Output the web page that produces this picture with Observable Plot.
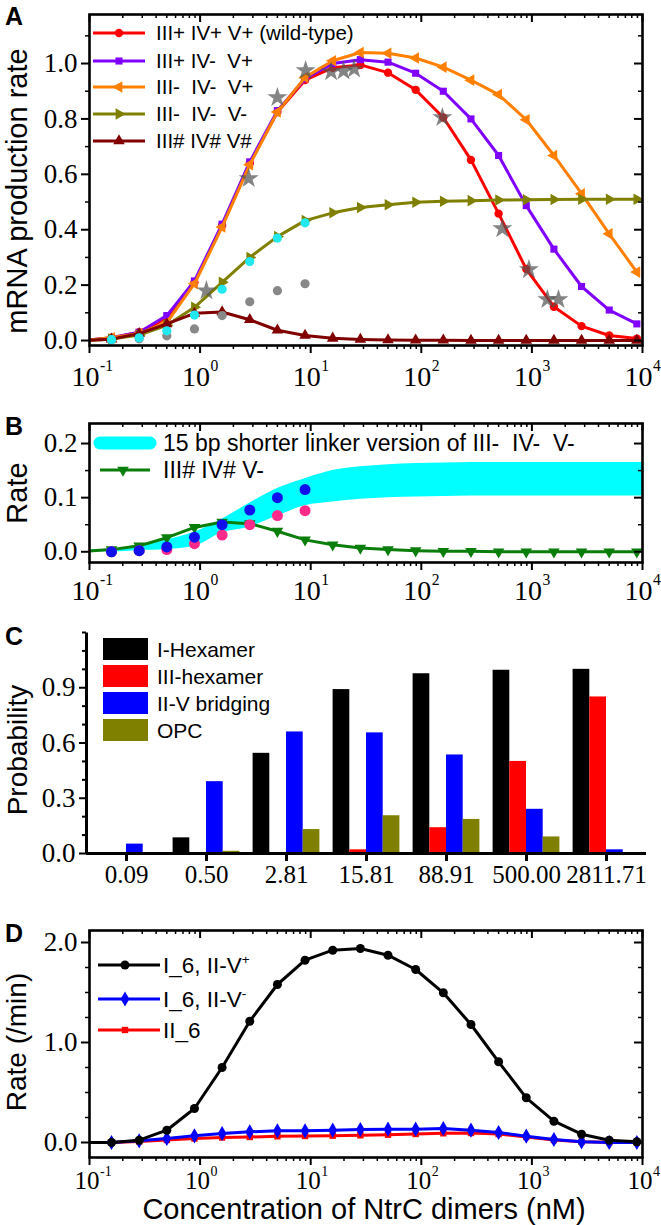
<!DOCTYPE html>
<html><head><meta charset="utf-8">
<script src="https://cdn.jsdelivr.net/npm/d3@7"></script>
<script src="https://cdn.jsdelivr.net/npm/@observablehq/plot@0.6"></script>
<style>
body{margin:0;background:#fff;}
#wrap{position:relative;width:661px;height:1225px;overflow:hidden;background:#fff;}
#wrap svg{position:absolute;left:0;}
#wrap svg text{white-space:pre;}
</style></head><body><div id="wrap"></div>
<script>
// ---------- shared x values (NtrC dimer concentration, nM) ----------
const conc = [0.0889, 0.1581, 0.2812, 0.5, 0.8891, 1.581, 2.812, 5.0, 8.891, 15.81, 28.12, 50.0, 88.91, 158.1, 281.2, 500.0, 889.1, 1581, 2812, 5000, 8891];
const xMajor = [0.1, 1, 10, 100, 1000, 10000];
const xExp = ["-1", "0", "1", "2", "3", "4"];

// ---------- Panel A ----------
const wildType  = [0.0, 0.01, 0.03, 0.08, 0.21, 0.415, 0.64, 0.825, 0.94, 0.985, 0.995, 0.967, 0.905, 0.805, 0.652, 0.458, 0.258, 0.122, 0.052, 0.018, 0.007];
const IIIpIVmVp = [0.0, 0.01, 0.03, 0.09, 0.215, 0.42, 0.645, 0.83, 0.945, 1.0, 1.014, 1.005, 0.965, 0.90, 0.80, 0.668, 0.487, 0.33, 0.195, 0.11, 0.06];
const IIImIVmVp = [0.0, 0.01, 0.025, 0.065, 0.205, 0.41, 0.635, 0.825, 0.95, 1.01, 1.04, 1.037, 1.02, 0.987, 0.94, 0.888, 0.797, 0.668, 0.53, 0.385, 0.247];
const IIImIVmVm = [0.0, 0.005, 0.02, 0.055, 0.12, 0.21, 0.30, 0.375, 0.433, 0.461, 0.48, 0.49, 0.499, 0.503, 0.505, 0.507, 0.508, 0.509, 0.51, 0.51, 0.51];
const IIIhIVhVh = [0.0, 0.005, 0.025, 0.06, 0.098, 0.103, 0.075, 0.037, 0.018, 0.008, 0.004, 0.002, 0.001, 0.001, 0, 0, 0, 0, 0, 0, 0];
const starX = [1.14, 2.75, 5.0, 9.0, 15.3, 19.8, 24.7, 155, 540, 940, 1380, 1740];
const starY = [0.18, 0.585, 0.877, 0.975, 0.97, 0.973, 0.98, 0.805, 0.404, 0.256, 0.148, 0.148];
const dataX = [0.1581, 0.2812, 0.5, 0.8891, 1.581, 2.812, 5.0, 8.891];
const greyY = [0.003, 0.006, 0.017, 0.042, 0.09, 0.14, 0.18, 0.205];
const cyanY = [0.003, 0.01, 0.035, 0.092, 0.185, 0.285, 0.37, 0.425];
const legendA = ["III+ IV+ V+ (wild-type)", "III+ IV-  V+", "III-  IV-  V+", "III-  IV-  V-", "III# IV# V#"];

// ---------- Panel B ----------
const bandX  = [0.0889, 0.1581, 0.2812, 0.5, 0.8891, 1.581, 2.812, 5.0, 8.891, 15.81, 28.12, 50.0, 88.91, 158.1, 281.2, 500.0, 889.1, 1581, 2812, 5000, 8891, 10000];
const bandLo = [0.0, 0.0, 0.002, 0.004, 0.01, 0.035, 0.046, 0.066, 0.085, 0.092, 0.097, 0.1, 0.101, 0.102, 0.103, 0.103, 0.103, 0.103, 0.103, 0.103, 0.103, 0.103];
const bandHi = [0.003, 0.005, 0.01, 0.022, 0.036, 0.06, 0.09, 0.117, 0.135, 0.15, 0.157, 0.161, 0.163, 0.164, 0.165, 0.165, 0.165, 0.165, 0.165, 0.165, 0.165, 0.165];
const IIIhIVhVm = [0.001, 0.004, 0.011, 0.026, 0.045, 0.055, 0.052, 0.038, 0.022, 0.013, 0.007, 0.004, 0.002, 0.001, 0.001, 0, 0, 0, 0, 0, 0];
const blueB = [0.0, 0.002, 0.009, 0.027, 0.05, 0.077, 0.10, 0.115];
const pinkB = [0.0, 0.002, 0.004, 0.015, 0.031, 0.05, 0.067, 0.076];
const legendB = ["15 bp shorter linker version of III-  IV-  V-", "III# IV# V-"];

// ---------- Panel C ----------
const catsC = ["0.09", "0.50", "2.81", "15.81", "88.91", "500.00", "2811.71"];
const iHexamer   = [0, 0.085, 0.544, 0.89, 0.976, 0.995, 1.0];
const iiiHexamer = [0, 0, 0, 0.02, 0.14, 0.50, 0.85];
const bridging   = [0.051, 0.39, 0.66, 0.655, 0.535, 0.24, 0.02];
const opc        = [0, 0.012, 0.13, 0.205, 0.185, 0.09, 0];
const legendC = ["I-Hexamer", "III-hexamer", "II-V bridging", "OPC"];

// ---------- Panel D ----------
const i6Plus  = [0, 0, 0.023, 0.123, 0.34, 0.75, 1.213, 1.58, 1.823, 1.923, 1.94, 1.873, 1.73, 1.497, 1.18, 0.807, 0.447, 0.213, 0.083, 0.023, 0.007];
const i6Minus = [0, 0, 0.017, 0.04, 0.067, 0.09, 0.107, 0.117, 0.117, 0.123, 0.13, 0.133, 0.133, 0.14, 0.123, 0.10, 0.063, 0.03, 0.007, 0, 0];
const ii6     = [0, 0, 0.01, 0.025, 0.04, 0.05, 0.055, 0.062, 0.065, 0.068, 0.072, 0.078, 0.085, 0.092, 0.095, 0.085, 0.055, 0.025, 0.008, 0.002, 0];

// ---------- helpers ----------
const xMinor = [];
for (const d of [0.1, 1, 10, 100, 1000]) for (let k = 2; k <= 9; k++) xMinor.push(d * k);

const sqrt3 = Math.sqrt(3);
function rotTri(rot) {
  return {draw(ctx, size) {
    const y = -Math.sqrt(size / (sqrt3 * 3));
    const p = [[0, y * 2], [-sqrt3 * y, -y], [sqrt3 * y, -y]].map(([a, b]) => rot(a, b));
    ctx.moveTo(p[0][0], p[0][1]); ctx.lineTo(p[1][0], p[1][1]); ctx.lineTo(p[2][0], p[2][1]); ctx.closePath();
  }};
}
const triLeft = rotTri((x, y) => [y, -x]);
const triRight = rotTri((x, y) => [-y, x]);
const triDown = rotTri((x, y) => [x, -y]);

const W = 661;
const serif = '"Liberation Serif", "DejaVu Serif", "Times New Roman", serif';
const sans = '"Liberation Sans", Arial, sans-serif';

function logXMarks(frameH, labelDy, fs) {
  return [
    Plot.axisX({anchor: "bottom", ticks: xMajor, tickSize: 8, tickFormat: () => "", strokeWidth: 2, label: null}),
    Plot.axisX({anchor: "bottom", ticks: xMinor, tickSize: 4, tickFormat: () => "", strokeWidth: 1.5, label: null}),
    Plot.ruleX(xMajor, {insetBottom: frameH - 8, strokeWidth: 2}),
    Plot.ruleX(xMinor, {insetBottom: frameH - 4, strokeWidth: 1.5}),
    Plot.text(xMajor, {x: d => d, frameAnchor: "bottom", text: () => "10", dy: labelDy, dx: 10, textAnchor: "end", lineAnchor: "bottom", fontSize: fs, fontFamily: serif}),
    Plot.text(xMajor, {x: d => d, frameAnchor: "bottom", text: (d, i) => xExp[i], dy: labelDy - fs * 0.52, dx: 10.5, textAnchor: "start", lineAnchor: "bottom", fontSize: fs * 0.56, fontFamily: serif})
  ];
}
function yMarks(maj, min, frameW, fmt, fs) {
  return [
    Plot.axisY({anchor: "left", ticks: maj, tickSize: 8, tickPadding: 4, tickFormat: fmt, strokeWidth: 2, label: null, fontSize: fs, fontFamily: serif}),
    Plot.axisY({anchor: "left", ticks: min, tickSize: 4, tickFormat: () => "", strokeWidth: 1.5, label: null}),
    Plot.ruleY(maj, {insetLeft: frameW - 8, strokeWidth: 2}),
    Plot.ruleY(min, {insetLeft: frameW - 4, strokeWidth: 1.5})
  ];
}
function place(svg, top, fs) {
  svg.style.top = top + "px";
  svg.setAttribute("font-family", serif);
  document.getElementById("wrap").appendChild(svg);
  svg.querySelectorAll("g, text").forEach(t => {
    if (t.hasAttribute("font-family")) t.setAttribute("font-family", serif);
  });
  svg.querySelectorAll("text").forEach(t => {
    t.style.fontFamily = serif;
    if (parseFloat(getComputedStyle(t).fontSize) < 12) t.style.fontSize = fs + "px";
  });
}
const baseStyle = {fontFamily: serif, fontSize: "26px", color: "black", background: "transparent", overflow: "visible"};
const f1 = d3.format(".1f");

// ---------- Plot A ----------
const tA = conc.map((c, i) => ({c, wt: wildType[i], p: IIIpIVmVp[i], o: IIImIVmVp[i], ol: IIImIVmVm[i], dr: IIIhIVhVh[i]}));
const seriesA = [
  {key: "wt", color: "#ff0000", sym: "circle", r: 4.2},
  {key: "p", color: "#8000ff", sym: "square", r: 4},
  {key: "o", color: "#ff8000", sym: triLeft, r: 4.3},
  {key: "ol", color: "#808000", sym: triRight, r: 4.3},
  {key: "dr", color: "#800000", sym: "triangle", r: 4.3}
];
const tStars = starX.map((x, i) => ({x, y: starY[i]}));
const tGrey = dataX.map((x, i) => ({x, y: greyY[i]}));
const tCyan = dataX.map((x, i) => ({x, y: cyanY[i]}));
const mA = 89, mAR = 19, topA = 14, botA = 55, hA = 400;
const plotA = Plot.plot({
  width: W, height: hA, marginLeft: mA, marginRight: mAR, marginTop: topA, marginBottom: botA,
  style: baseStyle,
  x: {type: "log", domain: [0.1, 10000], axis: null},
  y: {domain: [-0.018, 1.177], axis: null},
  marks: [
    ...seriesA.flatMap(s => [
      Plot.line(tA, {x: "c", y: s.key, stroke: s.color, strokeWidth: 3, clip: true}),
      Plot.dot(tA, {x: "c", y: s.key, symbol: s.sym, r: s.r, fill: s.color, stroke: "none", clip: true})
    ]),
    Plot.dot(tGrey, {x: "x", y: "y", r: 4.6, fill: "#888888", stroke: "none"}),
    Plot.dot(tCyan, {x: "x", y: "y", r: 4.6, fill: "#22e8f0", stroke: "none"}),
    Plot.dot(tStars, {x: "x", y: "y", symbol: "star", r: 6.3, fill: "#555555", fillOpacity: 0.72, stroke: "none"}),
    Plot.frame({strokeWidth: 2.6}),
    ...logXMarks(hA - topA - botA, 40, 28),
    ...yMarks([0, 0.2, 0.4, 0.6, 0.8, 1.0], [0.1, 0.3, 0.5, 0.7, 0.9, 1.1], W - mA - mAR, f1, 27)
  ]
});
place(plotA, 0, 27);

// ---------- Plot B ----------
const tBand = bandX.map((c, i) => ({c, lo: bandLo[i], hi: bandHi[i]}));
const tB = conc.map((c, i) => ({c, g: IIIhIVhVm[i]}));
const tBlue = dataX.map((x, i) => ({x, y: blueB[i]}));
const tPink = dataX.map((x, i) => ({x, y: pinkB[i]}));
const topB = 23, botB = 53, hB = 215;
const plotB = Plot.plot({
  width: W, height: hB, marginLeft: mA, marginRight: mAR, marginTop: topB, marginBottom: botB,
  style: baseStyle,
  x: {type: "log", domain: [0.1, 10000], axis: null},
  y: {domain: [-0.0198, 0.237], axis: null},
  marks: [
    Plot.areaY(tBand, {x: "c", y1: "lo", y2: "hi", fill: "#00ffff", curve: "monotone-x", clip: true}),
    Plot.line(tB, {x: "c", y: "g", stroke: "#0a7d0a", strokeWidth: 3, clip: true}),
    Plot.dot(tB, {x: "c", y: "g", symbol: triDown, r: 4.3, fill: "#0a7d0a", stroke: "none", clip: true}),
    Plot.dot(tPink, {x: "x", y: "y", r: 5.5, fill: "#ff2a8a", stroke: "none"}),
    Plot.dot(tBlue, {x: "x", y: "y", r: 5.5, fill: "#1010ee", stroke: "none"}),
    Plot.frame({strokeWidth: 2.6}),
    ...logXMarks(hB - topB - botB, 37, 28),
    ...yMarks([0, 0.1, 0.2], [0.05, 0.15], W - mA - mAR, f1, 27)
  ]
});
place(plotB, 400, 27);

// ---------- Plot C ----------
const tC = catsC.map((cat, i) => ({cat, a: iHexamer[i], b: iiiHexamer[i], c: bridging[i], d: opc[i]}));
const mCL = 86, mCR = 15, topC = 32, botC = 47, hC = 300;
const stepC = (W - mCL - mCR) / catsC.length;
const barW = 16.7, ins = (stepC - barW) / 2;
const seriesC = [
  {key: "a", color: "#000000", dx: -1.5 * barW},
  {key: "b", color: "#ff0000", dx: -0.5 * barW},
  {key: "c", color: "#0000ff", dx: 0.5 * barW},
  {key: "d", color: "#808000", dx: 1.5 * barW}
];
const fwC = W - mCL - mCR, fhC = hC - topC - botC;
const plotC = Plot.plot({
  width: W, height: hC, marginLeft: mCL, marginRight: mCR, marginTop: topC, marginBottom: botC,
  style: baseStyle,
  x: {type: "band", domain: catsC, padding: 0, axis: null},
  y: {domain: [0, 1.2], axis: null},
  marks: [
    ...seriesC.map(s => Plot.barY(tC, {x: "cat", y: s.key, fill: s.color, dx: s.dx, insetLeft: ins, insetRight: ins})),
    Plot.ruleY([0], {strokeWidth: 3}),
    Plot.frame({strokeWidth: 3, strokeDasharray: `0 ${2 * fwC + fhC} ${fhC}`}),
    Plot.axisX({anchor: "bottom", tickSize: 8, tickPadding: 4, strokeWidth: 3, label: null, fontSize: 25, fontFamily: serif}),
    Plot.axisY({anchor: "left", ticks: [0, 0.3, 0.6, 0.9], tickSize: 7, tickPadding: 4, tickFormat: f1, strokeWidth: 2, label: null, fontSize: 27, fontFamily: serif}),
    Plot.axisY({anchor: "left", ticks: [0.1, 0.2, 0.4, 0.5, 0.7, 0.8, 1.0, 1.1, 1.2], tickSize: 4, tickFormat: () => "", strokeWidth: 2, label: null})
  ]
});
place(plotC, 600, 25);

// ---------- Plot D ----------
const tD = conc.map((c, i) => ({c, k: i6Plus[i], b: i6Minus[i], r: ii6[i]}));
const seriesD = [
  {key: "r", color: "#ff0000", sym: "square", r: 3.6},
  {key: "b", color: "#0000ff", sym: "diamond", r: 4.6},
  {key: "k", color: "#000000", sym: "circle", r: 4.5}
];
const topD = 30, botD = 68, hD = 325;
const plotD = Plot.plot({
  width: W, height: hD, marginLeft: mA, marginRight: mAR, marginTop: topD, marginBottom: botD,
  style: baseStyle,
  x: {type: "log", domain: [0.1, 10000], axis: null},
  y: {domain: [-0.15, 2.12], axis: null},
  marks: [
    ...seriesD.flatMap(s => [
      Plot.line(tD, {x: "c", y: s.key, stroke: s.color, strokeWidth: 3, clip: true}),
      Plot.dot(tD, {x: "c", y: s.key, symbol: s.sym, r: s.r, fill: s.color, stroke: "none", clip: true})
    ]),
    Plot.frame({strokeWidth: 2.6}),
    ...logXMarks(hD - topD - botD, 31, 25),
    ...yMarks([0, 1, 2], [0.25, 0.5, 0.75, 1.25, 1.5, 1.75], W - mA - mAR, f1, 27)
  ]
});
place(plotD, 900, 27);

// ---------- overlay: panel letters, axis titles, legends ----------
const ov = d3.select("#wrap").append("svg").attr("width", W).attr("height", 1225)
  .style("top", "0px").style("pointer-events", "none");
const letters = [["A", 25], ["B", 435], ["C", 645], ["D", 942]];
for (const [t, y] of letters) ov.append("text").attr("x", 5).attr("y", y).text(t)
  .attr("font-family", sans).attr("font-weight", "bold").attr("font-size", 25);
const titles = [["mRNA production rate", 27, 191, 29], ["Rate", 27, 493, 29], ["Probability", 27, 750, 28], ["Rate (/min)", 26, 1042, 28]];
for (const [t, x, y, fs] of titles) ov.append("text").attr("transform", `translate(${x},${y}) rotate(-90)`)
  .attr("text-anchor", "middle").attr("font-family", sans).attr("font-size", fs).text(t);
ov.append("text").attr("x", 364).attr("y", 1219).attr("text-anchor", "middle")
  .attr("font-family", sans).attr("font-size", 29).text("Concentration of NtrC dimers (nM)");

function lineLegend(items, x1, x2, xm, xt, fs) {
  for (const it of items) {
    ov.append("line").attr("x1", x1).attr("x2", x2).attr("y1", it.y).attr("y2", it.y)
      .attr("stroke", it.color).attr("stroke-width", it.w || 3).attr("stroke-linecap", it.cap || "butt");
    if (it.sym) ov.append("path").attr("transform", `translate(${xm},${it.y})`)
      .attr("d", d3.symbol(it.sym, Math.PI * it.r * it.r)()).attr("fill", it.color);
    const tx = ov.append("text").attr("x", xt).attr("y", it.y + fs * 0.36)
      .attr("font-family", sans).attr("font-size", fs).attr("xml:space", "preserve");
    tx.append("tspan").text(it.label);
    if (it.sup) tx.append("tspan").attr("dy", -fs * 0.4).attr("font-size", fs * 0.6).text(it.sup);
  }
}
lineLegend([
  {y: 33, color: "#ff0000", sym: d3.symbolCircle, r: 4.2, label: legendA[0]},
  {y: 61, color: "#8000ff", sym: d3.symbolSquare, r: 4, label: legendA[1]},
  {y: 87, color: "#ff8000", sym: triLeft, r: 4.3, label: legendA[2]},
  {y: 114, color: "#808000", sym: triRight, r: 4.3, label: legendA[3]},
  {y: 141, color: "#800000", sym: d3.symbolTriangle, r: 4.3, label: legendA[4]}
], 93, 145, 119, 156, 20.5);
lineLegend([
  {y: 443, color: "#00ffff", w: 13, cap: "round", label: legendB[0]},
  {y: 470, color: "#0a7d0a", sym: triDown, r: 4.3, label: legendB[1]}
], 100, 150, 123, 163, 23);
const colC = ["#000000", "#ff0000", "#0000ff", "#808000"];
legendC.forEach((t, i) => {
  const y = 649 + 27 * i;
  ov.append("rect").attr("x", 103).attr("y", y - 11).attr("width", 45).attr("height", 22).attr("fill", colC[i]);
  ov.append("text").attr("x", 157).attr("y", y + 7.5).attr("font-family", sans).attr("font-size", 21).text(t);
});
lineLegend([
  {y: 965, color: "#000000", sym: d3.symbolCircle, r: 4.5, label: "I_6, II-V", sup: "+"},
  {y: 999, color: "#0000ff", sym: d3.symbolDiamond, r: 4.6, label: "I_6, II-V", sup: "-"},
  {y: 1030, color: "#ff0000", sym: d3.symbolSquare, r: 3.6, label: "II_6"}
], 98, 160, 125, 163, 22.5);
</script></body></html>
